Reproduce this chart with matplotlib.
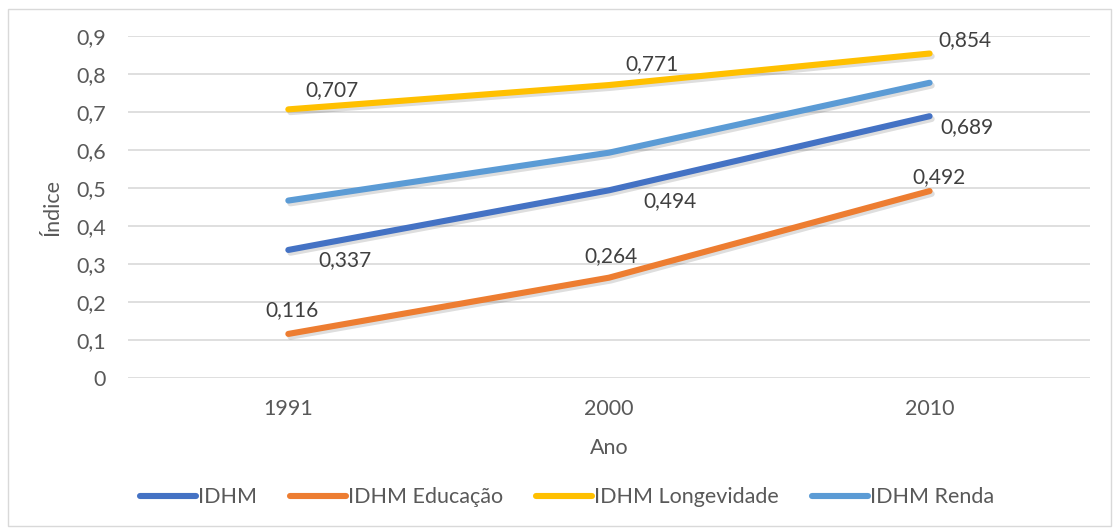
import matplotlib.pyplot as plt
import matplotlib.patheffects as pe
import numpy as np

anos = ["1991", "2000", "2010"]
idhm = [0.337, 0.494, 0.689]
idhm_educacao = [0.116, 0.264, 0.492]
idhm_longevidade = [0.707, 0.771, 0.854]
idhm_renda = [0.467, 0.593, 0.777]

series = [
    ("IDHM", idhm, "#4472C4", [(57, -10), (61, -11), (37, -11)]),
    ("IDHM Educação", idhm_educacao, "#ED7D31", [(4, 24), (2, 22), (9, 14)]),
    ("IDHM Longevidade", idhm_longevidade, "#FFC000", [(44, 19), (43, 21), (35, 13)]),
    ("IDHM Renda", idhm_renda, "#5B9BD5", None),
]

plt.rcParams["font.family"] = ["Lato", "DejaVu Sans"]
text_color = "#595959"

fig = plt.figure(figsize=(11.19, 5.30), dpi=100)
ax = fig.add_axes([0.1144, 0.2868, 0.8596, 0.6452])

# moldura externa do gráfico
fig.patches.append(plt.Rectangle((0.007, 0.008), 0.986, 0.975, transform=fig.transFigure,
                                 fill=False, edgecolor="#d9d9d9", linewidth=1))

x = np.arange(len(anos))
shadow = [pe.SimpleLineShadow(offset=(1.5, -2), shadow_color="#000000", alpha=0.13),
          pe.Normal()]

for nome, vals, cor, offs in series:
    ax.plot(x, vals, color=cor, linewidth=4.4, solid_capstyle="round",
            label=nome, path_effects=shadow, zorder=3)
    if offs is None:
        continue
    for xi, v, (dx, dy) in zip(x, vals, offs):
        ax.annotate(f"{v:.3f}".replace(".", ","), (xi, v), xytext=(dx * 0.72, dy * 0.72),
                    textcoords="offset points", ha="center", va="center",
                    fontsize=15, color="#404040", zorder=4)

ax.set_xlim(-0.5, 2.5)
ax.set_ylim(0, 0.9)
ax.set_yticks(np.arange(0, 0.91, 0.1))
ax.set_yticklabels(["0"] + [f"0,{i}" for i in range(1, 10)])
ax.set_xticks(x)
ax.set_xticklabels(anos)
ax.grid(axis="y", color="#d9d9d9", linewidth=1.2)
ax.set_axisbelow(True)
for s in ax.spines.values():
    s.set_visible(False)
ax.tick_params(length=0, labelsize=15.5, colors=text_color)
ax.tick_params(axis="y", pad=16)
ax.tick_params(axis="x", pad=15)

ax.set_xlabel("Ano", fontsize=15.5, color=text_color, labelpad=14)
ax.set_ylabel("Índice", fontsize=15.5, color=text_color, labelpad=10)

leg = fig.legend(loc="center left", bbox_to_anchor=(0.108, 0.062), ncol=4, frameon=False,
                 fontsize=15.5, handlelength=2.6, handletextpad=0.08, columnspacing=1.55)
for t in leg.get_texts():
    t.set_color(text_color)
for h in leg.legend_handles:
    h.set_path_effects([])

fig.savefig("out.png", dpi=100)
